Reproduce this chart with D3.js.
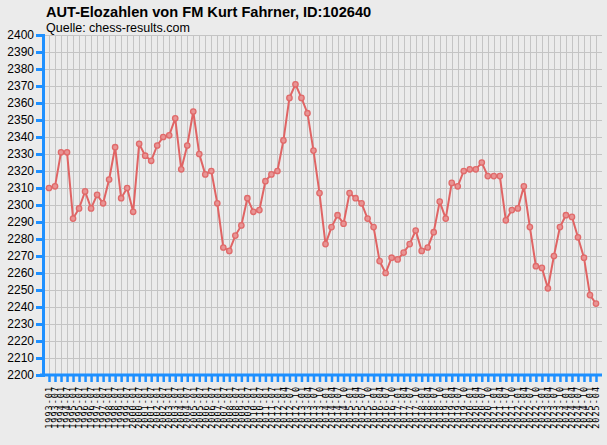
<!DOCTYPE html>
<html><head><meta charset="utf-8">
<script src="https://cdn.jsdelivr.net/npm/d3@7"></script>
<style>
html,body{margin:0;padding:0;background:#ebebeb;}
svg{display:block;}
</style></head>
<body>
<script>
const title = "AUT-Elozahlen von FM Kurt Fahrner, ID:102640";
const subtitle = "Quelle: chess-results.com";
const periods = [
 "1993-01","1993-07","1994-01","1994-07","1995-01","1995-07","1996-01","1996-07","1997-01","1997-07",
 "1998-01","1998-07","1999-01","1999-07","2000-01","2000-07","2001-01","2001-07","2002-01","2002-07",
 "2003-01","2003-07","2004-01","2004-07","2005-01","2005-07","2006-01","2006-07","2007-01","2007-07",
 "2008-01","2008-07","2009-01","2009-07","2010-01","2010-07","2011-01","2011-07",
 "2012-01","2012-04","2012-07","2012-10","2013-01","2013-04","2013-07","2013-10","2014-01","2014-04",
 "2014-07","2014-10","2015-01","2015-04","2015-07","2015-10","2016-01","2016-04","2016-07","2016-10",
 "2017-01","2017-04","2017-07","2017-10","2018-01","2018-04","2018-07","2018-10","2019-01","2019-04",
 "2019-07","2019-10","2020-01","2020-04","2020-07","2020-10","2021-01","2021-04","2021-07","2021-10",
 "2022-01","2022-04","2022-07","2022-10","2023-01","2023-04","2023-07","2023-10","2024-01","2024-04",
 "2024-07","2024-10","2025-01","2025-04"
];
const elo = [
 2310,2311,2331,2331,2292,2298,2308,2298,2306,2301,
 2315,2334,2304,2310,2296,2336,2329,2326,2335,2340,
 2341,2351,2321,2335,2355,2330,2318,2320,2301,2275,
 2273,2282,2288,2304,2296,2297,2314,2318,2320,2338,
 2363,2371,2363,2354,2332,2307,2277,2287,2294,2289,
 2307,2304,2301,2292,2287,2267,2260,2269,2268,2272,
 2277,2285,2273,2275,2284,2302,2292,2313,2311,2320,
 2321,2321,2325,2317,2317,2317,2291,2297,2298,2311,
 2287,2264,2263,2251,2270,2287,2294,2293,2281,2269,
 2247,2242
];
const yTicks = d3.range(2200, 2401, 10);

const W = 607, H = 445;
const pLeft = 43, pRight = 602, pTop = 35, pBottom = 375;
const axisBlue = "#1e90ff";

const svg = d3.select("body").append("svg").attr("width", W).attr("height", H);
svg.append("rect").attr("width", W).attr("height", H).attr("fill", "#ebebeb");

const x = d3.scalePoint().domain(periods).range([pLeft, pRight]).padding(1);
const y = d3.scaleLinear().domain([2200, 2400]).range([pBottom, pTop]);

// grid
const g = svg.append("g");
g.selectAll("line.h").data(yTicks).join("line")
  .attr("x1", pLeft).attr("x2", pRight)
  .attr("y1", d => Math.round(y(d)) + 0.5).attr("y2", d => Math.round(y(d)) + 0.5)
  .attr("stroke", "#c4c4c4").attr("stroke-width", 1);
g.selectAll("line.v").data(periods).join("line")
  .attr("x1", d => Math.round(x(d)) + 0.5).attr("x2", d => Math.round(x(d)) + 0.5)
  .attr("y1", pTop).attr("y2", pBottom)
  .attr("stroke", "#c4c4c4").attr("stroke-width", 1);

// y axis
const yAxis = svg.append("g").attr("transform", `translate(${pLeft},0)`)
  .call(d3.axisLeft(y).tickValues(yTicks).tickSize(7).tickPadding(2).tickFormat(d3.format("d")));
yAxis.select(".domain").attr("stroke", axisBlue).attr("stroke-width", 3);
yAxis.selectAll(".tick line").attr("stroke", axisBlue).attr("stroke-width", 3);
yAxis.selectAll(".tick text").attr("font-family", "Liberation Sans, Arial, sans-serif")
  .attr("font-size", 12).attr("fill", "#000");

// x axis
const xAxis = svg.append("g").attr("transform", `translate(0,${pBottom})`)
  .call(d3.axisBottom(x).tickSize(7).tickSizeOuter(0));
xAxis.select(".domain").attr("stroke", axisBlue).attr("stroke-width", 3)
  .attr("d", `M${pLeft - 3},0H${pRight}`);
xAxis.selectAll(".tick line").attr("stroke", axisBlue).attr("stroke-width", 2.5);
xAxis.selectAll(".tick text")
  .attr("font-family", "DejaVu Sans Mono, monospace").attr("font-size", 8.5).attr("fill", "#000")
  .attr("letter-spacing", 1)
  .attr("transform", "rotate(-90)")
  .attr("text-anchor", "end").attr("dy", "0.32em").attr("x", -11).attr("y", 0);

// line
const line = d3.line().x((d, i) => x(periods[i])).y(d => y(d));
svg.append("path").datum(elo).attr("d", line)
  .attr("fill", "none").attr("stroke", "#e06464").attr("stroke-width", 2);
svg.selectAll("circle.pt").data(elo).join("circle")
  .attr("cx", (d, i) => x(periods[i])).attr("cy", d => y(d)).attr("r", 2.7)
  .attr("fill", "#e89494").attr("stroke", "#e06a6a").attr("stroke-width", 1.3);

// titles
svg.append("text").attr("x", 46).attr("y", 17).text(title)
  .attr("font-family", "Liberation Sans, Arial, sans-serif").attr("font-weight", "bold")
  .attr("font-size", 14.6).attr("fill", "#000");
svg.append("text").attr("x", 46).attr("y", 32).text(subtitle)
  .attr("font-family", "Liberation Sans, Arial, sans-serif")
  .attr("font-size", 12.5).attr("fill", "#000");
</script>
</body></html>
